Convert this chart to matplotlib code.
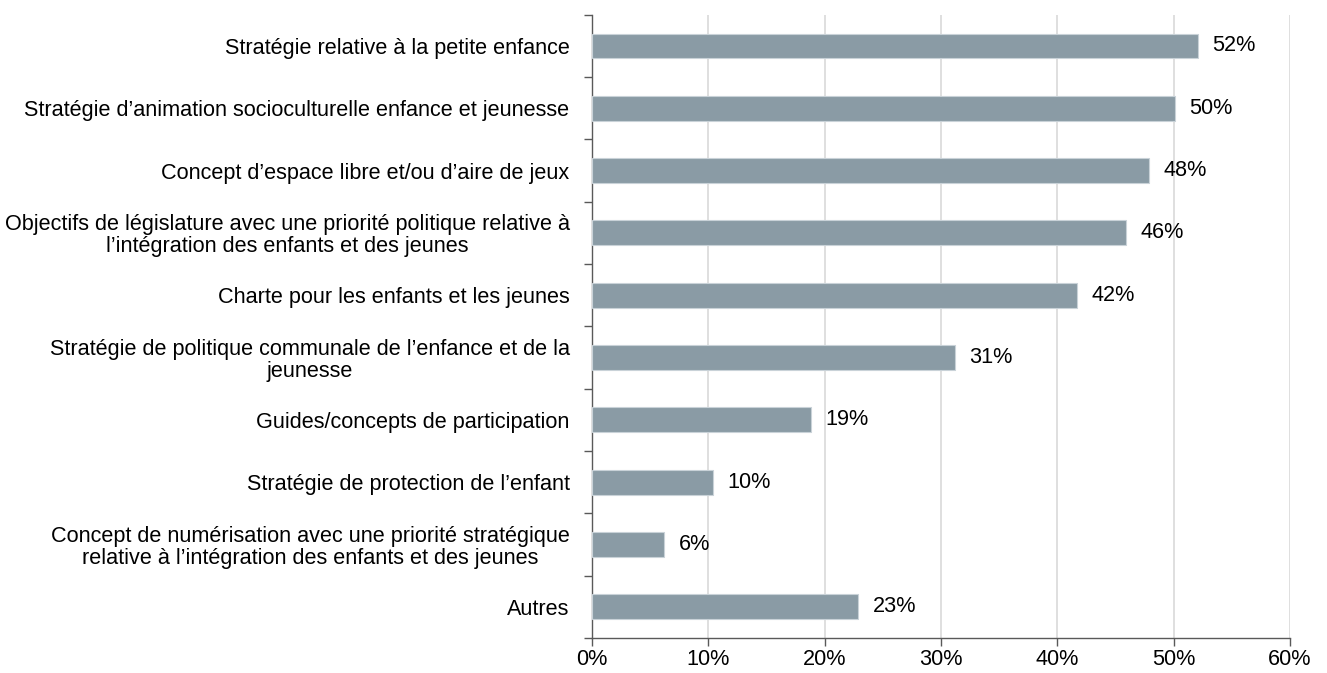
import numpy as np
import matplotlib
matplotlib.use("Agg")
import matplotlib.pyplot as plt
from matplotlib.ticker import FixedLocator, PercentFormatter

plt.rcParams['font.family'] = ['Liberation Sans', 'DejaVu Sans']

categories = [
    "Stratégie relative à la petite enfance",
    "Stratégie d’animation socioculturelle enfance et jeunesse",
    "Concept d’espace libre et/ou d’aire de jeux",
    "Objectifs de législature avec une priorité politique relative à\nl’intégration des enfants et des jeunes",
    "Charte pour les enfants et les jeunes",
    "Stratégie de politique communale de l’enfance et de la\njeunesse",
    "Guides/concepts de participation",
    "Stratégie de protection de l’enfant",
    "Concept de numérisation avec une priorité stratégique\nrelative à l’intégration des enfants et des jeunes",
    "Autres",
]
values = [52.1, 50.1, 47.9, 45.9, 41.7, 31.2, 18.8, 10.4, 6.2, 22.9]
value_labels = ["52%", "50%", "48%", "46%", "42%", "31%", "19%", "10%", "6%", "23%"]

FS = 15.6

fig = plt.figure(figsize=(13.27, 6.73), dpi=100)
ax = fig.add_axes([0.446, 0.052, 0.526, 0.926])

y = np.arange(len(categories))
ax.barh(y, values, height=0.4, color="#8A9BA5", edgecolor="#C9D2D8", linewidth=0.8, zorder=3)

for yi, v, lab in zip(y, values, value_labels):
    ax.text(v + 1.25, yi, lab, va="center", ha="left", fontsize=FS)

ax.set_xlim(0, 60)
ax.set_ylim(len(categories) - 0.5, -0.5)
ax.set_xticks(np.arange(0, 61, 10))
ax.xaxis.set_major_formatter(PercentFormatter(decimals=0))
ax.xaxis.grid(True, color="#D9D9D9", linewidth=1.2, zorder=0)
ax.set_axisbelow(True)

ax.set_yticks(y)
ax.set_yticklabels(categories, multialignment="center", linespacing=1.05)
ax.yaxis.set_minor_locator(FixedLocator(np.arange(-0.5, len(categories), 1)))
ax.tick_params(axis="y", which="major", length=0, pad=16, labelsize=FS)
ax.tick_params(axis="y", which="minor", length=6, width=1, color="#595959")
ax.tick_params(axis="x", length=6, width=1, color="#595959", labelsize=FS, pad=2)

for s in ["top", "right"]:
    ax.spines[s].set_visible(False)
for s in ["left", "bottom"]:
    ax.spines[s].set_color("#595959")
    ax.spines[s].set_linewidth(1)

fig.savefig("out.png", dpi=100)
